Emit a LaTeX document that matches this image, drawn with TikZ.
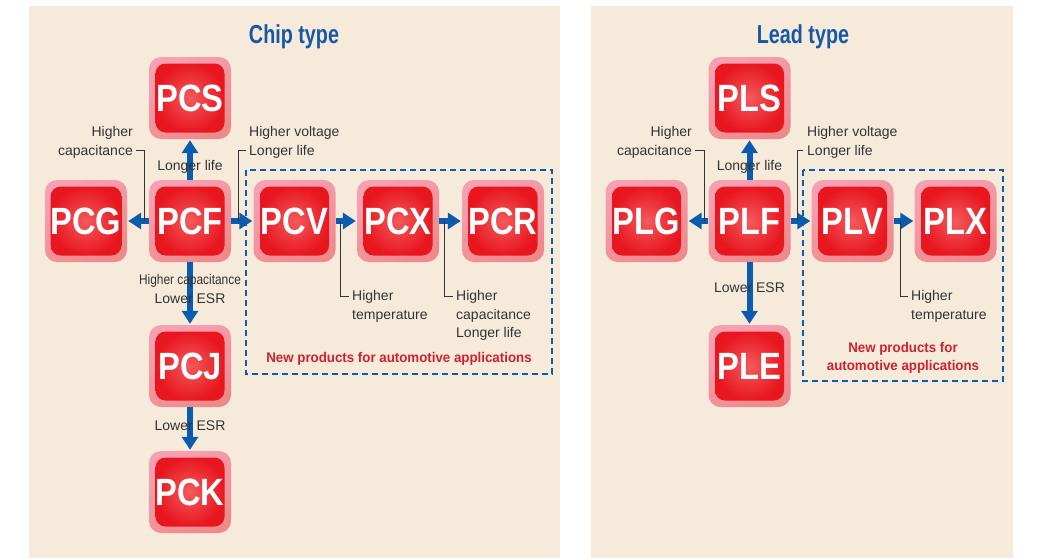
\documentclass[tikz,border=0pt]{standalone}
\usepackage{fontspec}
\setmainfont{Liberation Sans}
\newfontfamily\condfont{Liberation Sans}[FakeStretch=0.86]
\newfontfamily\titlefont{Liberation Sans}[FakeStretch=0.76]
\newfontfamily\narrowfont{Liberation Sans}[FakeStretch=0.85]
\newfontfamily\redfont{Liberation Sans}[FakeStretch=0.95]
\usetikzlibrary{arrows.meta}
\definecolor{bg}{HTML}{F6EBDB}
\definecolor{arrblue}{HTML}{0B5CAD}
\definecolor{titleblue}{HTML}{1458A6}
\definecolor{pinkA}{HTML}{F7A0B2}
\definecolor{pinkB}{HTML}{EF8A8C}
\definecolor{redout}{HTML}{E8161F}
\definecolor{redin}{HTML}{F35A5C}
\definecolor{txtgray}{HTML}{333333}
\definecolor{redtxt}{HTML}{CF2230}
\newcommand\prodbox[3]{%
  \node[outerbox] (#1) at (#2) {};
  \node[innerbox] (#1i) at (#1) {#3};}
\begin{document}
\begin{tikzpicture}[x=1pt,y=-1pt,
  outerbox/.style={rectangle, rounded corners=12pt, minimum width=82pt, minimum height=82pt, inner sep=0pt,
    top color=pinkA, bottom color=pinkB, shading angle=30},
  innerbox/.style={rectangle, rounded corners=10pt, minimum width=69pt, minimum height=69pt, inner sep=0pt,
    inner color=redin, outer color=redout, text=white,
    font=\condfont\bfseries\fontsize{38}{38}\selectfont},
  arr/.style={draw=arrblue, line width=6pt, -{Triangle[length=13pt,width=16pt]}, shorten >=1pt},
  leader/.style={draw=txtgray, line width=0.9pt},
  lbl/.style={text=txtgray, inner sep=0pt, font=\fontsize{14}{18.5}\selectfont},
  redlbl/.style={text=redtxt, inner sep=0pt, align=center, font=\redfont\bfseries\fontsize{14}{18.5}\selectfont},
  ttl/.style={text=titleblue, inner sep=0pt, font=\titlefont\bfseries\fontsize{26}{26}\selectfont},
  dbox/.style={draw=arrblue, line width=2.4pt, dash pattern=on 6pt off 4pt}
]
\useasboundingbox (0,0) rectangle (1060,558);
\fill[white] (0,0) rectangle (1060,558);
\fill[bg] (29,6) rectangle (560,558);
\fill[bg] (591,6) rectangle (1013,558);

% titles
\node[ttl] (t1) at (294,36.5) {Chip type};
\node[ttl] (t2) at (803,36.5) {Lead type};

% dashed boxes
\draw[dbox] (246,170) rectangle (552,374);
\draw[dbox] (803,170) rectangle (1003,381);

% chip type nodes
\prodbox{pcs}{190,98}{PCS}
\prodbox{pcf}{190,221}{PCF}
\prodbox{pcg}{86,221}{PCG}
\prodbox{pcv}{294.5,221}{PCV}
\prodbox{pcx}{398,221}{PCX}
\prodbox{pcr}{503,221}{PCR}
\prodbox{pcj}{190,366}{PCJ}
\prodbox{pck}{190,492}{PCK}

% lead type nodes
\prodbox{pls}{749.5,98}{PLS}
\prodbox{plf}{749.5,221}{PLF}
\prodbox{plg}{646.5,221}{PLG}
\prodbox{plv}{852.5,221}{PLV}
\prodbox{plx}{955.5,221}{PLX}
\prodbox{ple}{749.5,366}{PLE}

% arrows chip
\draw[arr] (pcf.north) -- (pcs.south);
\draw[arr] (pcf.west) -- (pcg.east);
\draw[arr] (pcf.east) -- (pcv.west);
\draw[arr] (pcf.south) -- (pcj.north);
\draw[arr] (pcj.south) -- (pck.north);
\draw[arr] (pcv.east) -- (pcx.west);
\draw[arr] (pcx.east) -- (pcr.west);

% arrows lead
\draw[arr] (plf.north) -- (pls.south);
\draw[arr] (plf.west) -- (plg.east);
\draw[arr] (plf.east) -- (plv.west);
\draw[arr] (plf.south) -- (ple.north);
\draw[arr] (plv.east) -- (plx.west);

% leader coordinates
\coordinate (la1) at (136,150); \coordinate (la2) at (144,150); \coordinate (la3) at (144,221);
\coordinate (lb1) at (246,150); \coordinate (lb2) at (238,150); \coordinate (lb3) at (238,221);
\coordinate (lc1) at (340,221); \coordinate (lc2) at (340,296); \coordinate (lc3) at (349,296);
\coordinate (ld1) at (444,221); \coordinate (ld2) at (444,296); \coordinate (ld3) at (453,296);
\coordinate (le1) at (695,150); \coordinate (le2) at (704,150); \coordinate (le3) at (704,221);
\coordinate (lf1) at (803,150); \coordinate (lf2) at (797,150); \coordinate (lf3) at (797,221);
\coordinate (lg1) at (900,221); \coordinate (lg2) at (900,296); \coordinate (lg3) at (908,296);
\draw[leader] (la1) -- (la2) -- (la3);
\draw[leader] (lb1) -- (lb2) -- (lb3);
\draw[leader] (lc1) -- (lc2) -- (lc3);
\draw[leader] (ld1) -- (ld2) -- (ld3);
\draw[leader] (le1) -- (le2) -- (le3);
\draw[leader] (lf1) -- (lf2) -- (lf3);
\draw[leader] (lg1) -- (lg2) -- (lg3);

% labels chip
\node[lbl, align=right, anchor=east] (l1) at (133,142.5) {Higher\\capacitance};
\node[lbl, align=left, anchor=west] (l2) at (249,142.5) {Higher voltage\\Longer life};
\node[lbl] (l3) at (190,167) {Longer life};
\node[lbl, align=center] (l4) at (190,289) {{\narrowfont Higher capacitance}\\Lower ESR};
\node[lbl, align=left, anchor=west] (l5) at (352,306.5) {Higher\\temperature};
\node[lbl, align=left, anchor=west] (l6) at (456,315.5) {Higher\\capacitance\\Longer life};
\node[lbl] (l7) at (190,426) {Lower ESR};
\node[redlbl] (r1) at (399,359) {New products for automotive applications};

% labels lead
\node[lbl, align=right, anchor=east] (m1) at (692,142.5) {Higher\\capacitance};
\node[lbl, align=left, anchor=west] (m2) at (807,142.5) {Higher voltage\\Longer life};
\node[lbl] (m3) at (749.5,167) {Longer life};
\node[lbl] (m4) at (749.5,288) {Lower ESR};
\node[lbl, align=left, anchor=west] (m5) at (911,306.5) {Higher\\temperature};
\node[redlbl] (r2) at (903,358) {New products for\\automotive applications};
\end{tikzpicture}
\end{document}
